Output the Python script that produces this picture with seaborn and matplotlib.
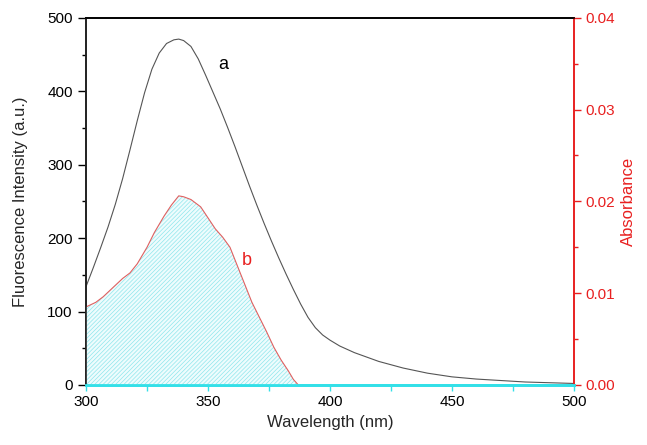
import numpy as np
import pandas as pd
import matplotlib
matplotlib.use('Agg')
import matplotlib.pyplot as plt
import seaborn as sns
from matplotlib.ticker import MultipleLocator, FormatStrFormatter

sns.set_style('ticks')
plt.rcParams['font.family'] = ['Liberation Sans', 'DejaVu Sans']
plt.rcParams['hatch.linewidth'] = 0.5

# Curve a: fluorescence intensity (left axis)
wl_a = [300, 303, 306, 309, 312, 315, 318, 321, 324, 327, 330, 333, 336, 338, 340,
        343, 346, 349, 352, 355, 358, 361, 364, 367, 370, 373, 376, 379, 382, 385,
        388, 391, 394, 397, 400, 404, 410, 420, 430, 440, 450, 460, 470, 480, 490, 500]
fl_a = [134, 160, 187, 215, 246, 281, 320, 360, 398, 430, 452, 465, 470, 471, 469,
        461, 444, 422, 399, 376, 351, 325, 298, 271, 245, 220, 196, 173, 151, 130,
        110, 92, 78, 68, 61, 53, 44, 32, 23, 16, 11, 8, 6, 4, 3, 2]

# Curve b: absorbance (right axis)
wl_b = [300, 304, 307, 311, 315, 318, 321, 325, 328, 332, 335, 338, 340, 343, 347,
        350, 353, 356, 359, 362, 365, 368, 371, 374, 377, 380, 383, 385, 387]
abs_b = [0.0085, 0.0090, 0.0096, 0.0106, 0.0116, 0.0122, 0.0132, 0.0150, 0.0166, 0.0184,
         0.0196, 0.0206, 0.0205, 0.0202, 0.0194, 0.0182, 0.0170, 0.0161, 0.0150, 0.0130,
         0.0110, 0.0090, 0.0074, 0.0058, 0.0041, 0.0027, 0.0015, 0.0006, 0.0]

df_a = pd.DataFrame({'wl': wl_a, 'fl': fl_a})
df_b = pd.DataFrame({'wl': wl_b, 'abs': abs_b})

red = '#e82020'
cyan = '#33e0e8'

fig = plt.figure(figsize=(6.47, 4.45), dpi=100)
ax = fig.add_axes([0.133, 0.135, 0.754, 0.825])
ax2 = ax.twinx()

sns.lineplot(data=df_a, x='wl', y='fl', ax=ax, color='#555555', linewidth=0.8)

ax2.fill_between(df_b['wl'], df_b['abs'], 0, facecolor='#eefcfd',
                 edgecolor='#8fe6ec', hatch='////////', linewidth=0)
sns.lineplot(data=df_b, x='wl', y='abs', ax=ax2, color='#e06060', linewidth=0.8)

ax.set_xlim(300, 500)
ax.set_ylim(0, 500)
ax2.set_ylim(0, 0.04)

ax.xaxis.set_major_locator(MultipleLocator(50))
ax.xaxis.set_minor_locator(MultipleLocator(25))
ax.yaxis.set_major_locator(MultipleLocator(100))
ax.yaxis.set_minor_locator(MultipleLocator(50))
ax2.yaxis.set_major_locator(MultipleLocator(0.01))
ax2.yaxis.set_minor_locator(MultipleLocator(0.005))
ax2.yaxis.set_major_formatter(FormatStrFormatter('%.2f'))

ax.set_xlabel('Wavelength (nm)', fontsize=12)
ax.set_ylabel('Fluorescence Intensity (a.u.)', fontsize=12, labelpad=14)
ax2.set_ylabel('Absorbance', fontsize=12, color=red)

for a in (ax, ax2):
    for s in a.spines.values():
        s.set_visible(True)
        s.set_linewidth(1.2)
    a.spines['top'].set_color('black')
    a.spines['right'].set_color(red)
    a.spines['bottom'].set_color(cyan)
    a.spines['bottom'].set_linewidth(2)
ax.spines['left'].set_color('black')

ax.tick_params(axis='y', which='major', length=6, width=1, labelsize=11, colors='black')
ax.tick_params(axis='y', which='minor', length=3, width=1, colors='black')
ax.tick_params(axis='x', which='both', length=4, width=1, color=cyan, labelcolor='black', labelsize=11)
ax2.tick_params(axis='y', which='major', length=5, width=1, labelsize=11, colors=red)
ax2.tick_params(axis='y', which='minor', length=3, width=1, colors=red)

ax.text(354, 430, 'a', fontsize=13, color='black')
ax.text(364, 163, 'b', fontsize=13, color=red)

fig.savefig('out.png', dpi=100)
